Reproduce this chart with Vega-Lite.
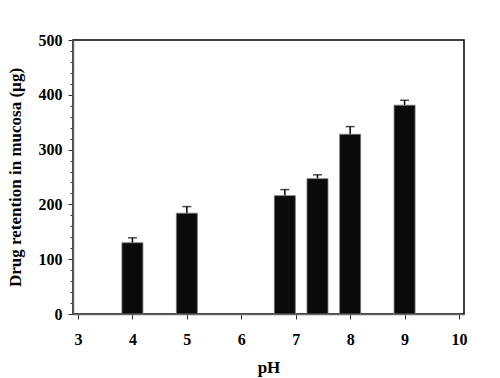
{
  "$schema": "https://vega.github.io/schema/vega-lite/v6.json",
  "width": 391,
  "height": 274,
  "autosize": {"type": "none"},
  "padding": {"left": 73, "top": 40, "right": 36, "bottom": 64},
  "background": "white",
  "config": {
    "view": {"stroke": "#000000", "strokeWidth": 1.5},
    "font": "Liberation Serif",
    "axis": {
      "grid": false,
      "domainColor": "#666666",
      "domainWidth": 1.5,
      "tickColor": "#333333",
      "tickWidth": 1,
      "labelOverlap": false,
      "labelFont": "Liberation Serif",
      "labelFontWeight": "bold",
      "labelFontSize": 16,
      "labelColor": "#000000",
      "titleFont": "Liberation Serif",
      "titleFontWeight": "bold",
      "titleFontSize": 17,
      "titleColor": "#000000"
    }
  },
  "data": {
    "values": [
      {"pH": 4.0, "retention": 130, "upper": 139},
      {"pH": 5.0, "retention": 184, "upper": 196},
      {"pH": 6.8, "retention": 216, "upper": 227},
      {"pH": 7.4, "retention": 247, "upper": 254},
      {"pH": 8.0, "retention": 328, "upper": 342},
      {"pH": 9.0, "retention": 381, "upper": 390}
    ]
  },
  "encoding": {
    "x": {
      "field": "pH",
      "type": "quantitative",
      "scale": {"domain": [3, 10], "nice": false, "zero": false},
      "axis": {
        "title": "pH",
        "values": [3, 4, 5, 6, 7, 8, 9, 10],
        "tickSize": 5,
        "labelPadding": 12,
        "titlePadding": 12
      }
    },
    "y": {
      "field": "retention",
      "type": "quantitative",
      "scale": {"domain": [0, 500], "nice": false},
      "axis": {
        "title": "Drug retention in mucosa (µg)",
        "values": [0, 20, 40, 60, 80, 100, 120, 140, 160, 180, 200, 220, 240, 260, 280, 300, 320, 340, 360, 380, 400, 420, 440, 460, 480, 500],
        "labelExpr": "datum.value % 100 === 0 ? format(datum.value, 'd') : ''",
        "labelOverlap": false,
        "labelBound": false,
        "labelFlush": false,
        "tickSize": {"condition": {"test": "datum.value % 100 === 0", "value": 5}, "value": 3},
        "labelPadding": 6,
        "titlePadding": 14
      }
    }
  },
  "layer": [
    {
      "mark": {"type": "rule", "color": "#000000", "strokeWidth": 1.5},
      "encoding": {
        "y2": {"field": "upper"}
      }
    },
    {
      "mark": {"type": "tick", "orient": "horizontal", "size": 9, "thickness": 1.5, "color": "#000000"},
      "encoding": {
        "y": {"field": "upper", "type": "quantitative"}
      }
    },
    {
      "mark": {"type": "bar", "size": 21, "color": "#0a0a0a", "stroke": "#777777", "strokeWidth": 0.8}
    }
  ]
}
